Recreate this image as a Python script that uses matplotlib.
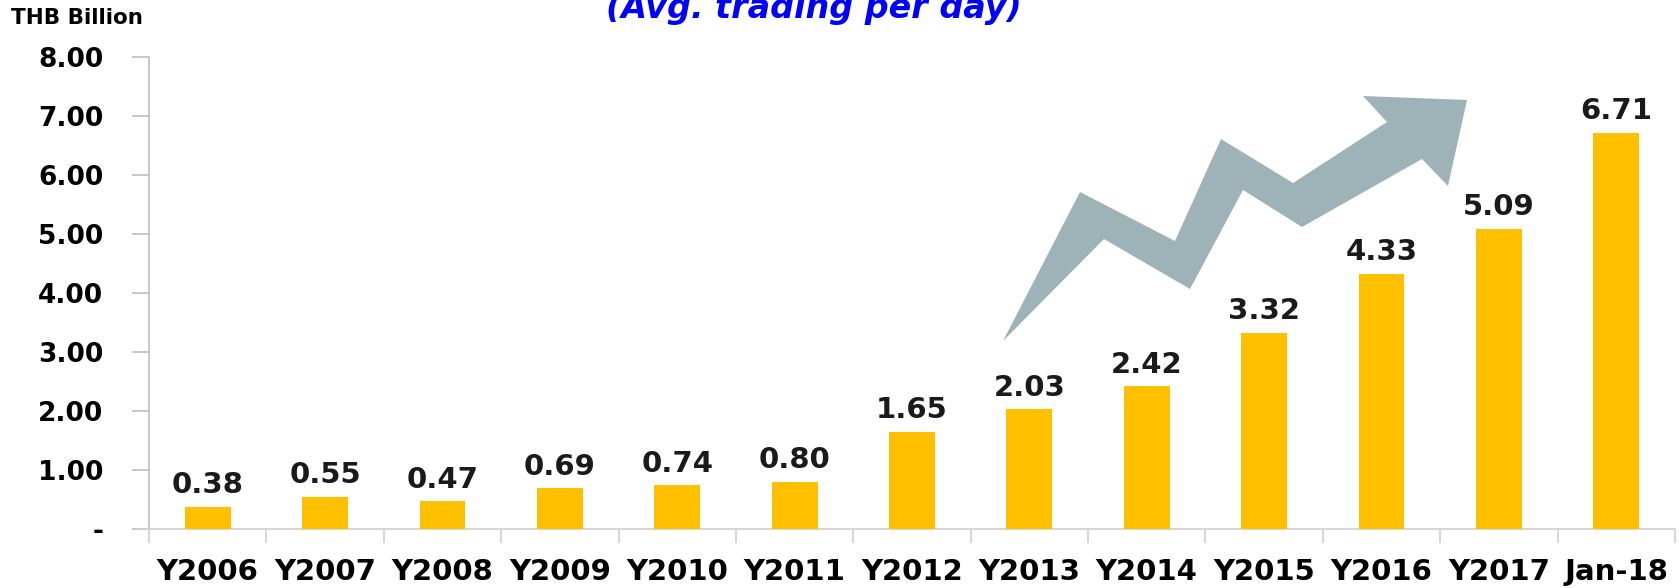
import numpy as np
import matplotlib
matplotlib.use("Agg")
import matplotlib.pyplot as plt
from matplotlib.patches import Polygon

# data
categories = ["Y2006", "Y2007", "Y2008", "Y2009", "Y2010", "Y2011", "Y2012",
              "Y2013", "Y2014", "Y2015", "Y2016", "Y2017", "Jan-18"]
values = [0.38, 0.55, 0.47, 0.69, 0.74, 0.80, 1.65, 2.03, 2.42, 3.32, 4.33, 5.09, 6.71]
yticks = [0, 1, 2, 3, 4, 5, 6, 7, 8]
ytick_labels = ["-", "1.00", "2.00", "3.00", "4.00", "5.00", "6.00", "7.00", "8.00"]

# decorative zigzag arrow, in figure pixels measured from the top-left
arrow_px = [(1003, 341), (1080, 192), (1175, 241), (1221, 139), (1293, 183),
            (1387, 122), (1363, 96), (1467, 100), (1448, 186), (1422, 159),
            (1302, 227), (1243, 190), (1190, 289), (1104, 239)]

W, H = 1679, 588
bar_color = "#FFC000"
grey = "#BFBFBF"

plt.rcParams['font.family'] = ['DejaVu Sans']
fig = plt.figure(figsize=(W / 100, H / 100), dpi=100)
ax = fig.add_axes([149 / W, 1 - 529 / H, (1675 - 149) / W, (529 - 57) / H])

x = np.arange(len(categories))
bars = ax.bar(x, values, width=0.39, color=bar_color, zorder=3)

for xi, v in zip(x, values):
    ax.text(xi, v + 0.13, f"{v:.2f}", ha="center", va="bottom",
            fontsize=21, fontweight="bold", color="#1a1a1a")

ax.set_xlim(-0.5, len(categories) - 0.5)
ax.set_ylim(0, 8)

ax.set_yticks(yticks)
ax.set_yticklabels(ytick_labels, fontsize=19, fontweight="bold")
ax.tick_params(axis="y", length=12, color=grey, width=1.2, pad=21)

# category labels centred, tick marks at category boundaries
ax.set_xticks(x)
ax.set_xticklabels(categories, fontsize=21, fontweight="bold")
ax.tick_params(axis="x", length=0, pad=21)
ax.set_xticks(np.arange(-0.5, len(categories)), minor=True)
ax.tick_params(axis="x", which="minor", length=10, color="#D0D0D0", width=1.2)

for s in ["top", "right"]:
    ax.spines[s].set_visible(False)
ax.spines["left"].set_color(grey)
ax.spines["left"].set_linewidth(1.2)
ax.spines["bottom"].set_color("#D0D0D0")
ax.spines["bottom"].set_linewidth(1.2)
ax.spines["bottom"].set_bounds(-0.5 - 12 / 117.4, len(categories) - 0.5)

# arrow
pts = [(px / W, 1 - py / H) for px, py in arrow_px]
fig.patches.append(Polygon(pts, closed=True, transform=fig.transFigure,
                           facecolor="#9DB3B8", edgecolor="none", zorder=1))

fig.text(11 / W, 1 - 18 / H, "THB Billion", fontsize=15.5, fontweight="bold",
         ha="left", va="center")
# the reference shows this line clipped by the top edge
fig.text(814 / W, 1 - 18 / H, "(Avg. trading per day)", fontsize=24,
         fontweight="bold", style="italic", color="#0000FF",
         ha="center", va="baseline")

fig.savefig("out.png", dpi=100)
